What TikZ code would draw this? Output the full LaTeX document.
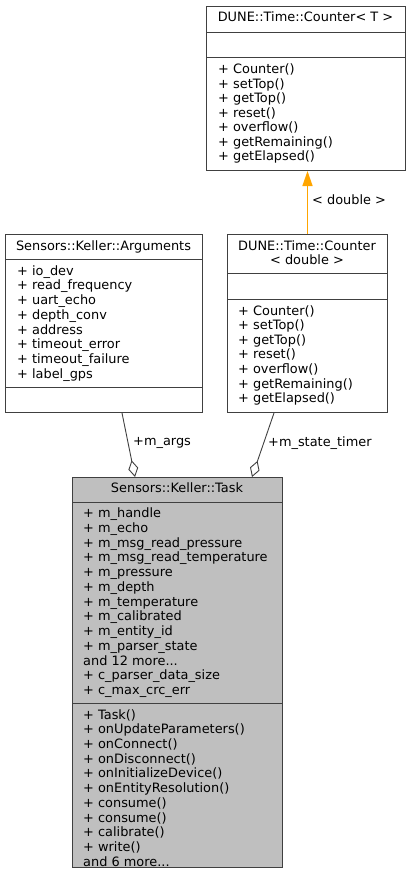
\documentclass[tikz,border=0pt]{standalone}
\usepackage{fontspec}
\setmainfont{DejaVu Sans}
\usetikzlibrary{arrows.meta, positioning}

\definecolor{linegray}{HTML}{404040}
\definecolor{taskgray}{HTML}{BFBFBF}
\definecolor{tplorange}{HTML}{FFA500}
\newcommand{\andmore}[1]{and #1 more...}

\begin{document}
\begin{tikzpicture}[
x=1pt, y=-1pt,
every node/.style={font=\fontsize{12.9}{15}\selectfont},
classbox/.style={draw=linegray, line width=1pt, inner sep=0, anchor=north west},
member/.style={anchor=base west, inner sep=0},
boxtitle/.style={anchor=base, inner sep=0},
sepline/.style={draw=linegray, line width=1pt},
aggr/.style={draw=linegray, line width=0.9pt, -{Diamond[open, length=17pt, width=10pt]}},
tplarrow/.style={draw=tplorange, line width=1.4pt, -{Triangle[length=15pt, width=10pt]}}
]

\useasboundingbox (0,0) rectangle (411,881);

% DUNE::Time::Counter< T >
\node[classbox, minimum width=199, minimum height=164] (ctmpl) at (206,6) {};
\node[boxtitle] (ctmpl-t) at (305.5,21.6) {DUNE::Time::Counter< T >};
\draw[sepline] (ctmpl.west |- 0,32) -- (ctmpl.east |- 0,32);
\draw[sepline] (ctmpl.west |- 0,57) -- (ctmpl.east |- 0,57);
\foreach \t [count=\i from 0] in {Counter(), setTop(), getTop(), reset(), overflow(), getRemaining(), getElapsed()} {
\node[member] (ctmpl-m\i) at (218, 73.6+\i*14.56) {+ \t};
}

% Sensors::Keller::Arguments
\node[classbox, minimum width=197, minimum height=178] (args) at (5,234) {};
\node[boxtitle] (args-t) at (103.5,250) {Sensors::Keller::Arguments};
\draw[sepline] (args.west |- 0,259) -- (args.east |- 0,259);
\draw[sepline] (args.west |- 0,387) -- (args.east |- 0,387);
\foreach \t [count=\i from 0] in {io\_dev, read\_frequency, uart\_echo, depth\_conv, address, timeout\_error, timeout\_failure, label\_gps} {
\node[member] (args-a\i) at (17, 275+\i*14.76) {+ \t};
}

% DUNE::Time::Counter< double >
\node[classbox, minimum width=160, minimum height=178] (cdbl) at (227,234) {};
\node[boxtitle] (cdbl-t1) at (307,250) {DUNE::Time::Counter};
\node[boxtitle] (cdbl-t2) at (307,264.4) {< double >};
\draw[sepline] (cdbl.west |- 0,273) -- (cdbl.east |- 0,273);
\draw[sepline] (cdbl.west |- 0,299) -- (cdbl.east |- 0,299);
\foreach \t [count=\i from 0] in {Counter(), setTop(), getTop(), reset(), overflow(), getRemaining(), getElapsed()} {
\node[member] (cdbl-m\i) at (238, 315+\i*14.6) {+ \t};
}

% Sensors::Keller::Task
\node[classbox, fill=taskgray, minimum width=210, minimum height=390] (task) at (72,477) {};
\node[boxtitle] (task-t) at (177,492.6) {Sensors::Keller::Task};
\draw[sepline] (task.west |- 0,502) -- (task.east |- 0,502);
\draw[sepline] (task.west |- 0,703) -- (task.east |- 0,703);
\foreach \t [count=\i from 0] in {+ m\_handle, + m\_echo, + m\_msg\_read\_pressure, + m\_msg\_read\_temperature, + m\_pressure, + m\_depth, + m\_temperature, + m\_calibrated, + m\_entity\_id, + m\_parser\_state, \andmore{12}, + c\_parser\_data\_size, + c\_max\_crc\_err} {
\node[member] (task-a\i) at (83, 517.6+\i*14.74) {\t};
}
\foreach \t [count=\i from 0] in {+ Task(), + onUpdateParameters(), + onConnect(), + onDisconnect(), + onInitializeDevice(), + onEntityResolution(), + consume(), + consume(), + calibrate(), + write(), \andmore{6}} {
\node[member] (task-m\i) at (83, 719.3+\i*14.67) {\t};
}

% template instance
\draw[tplarrow] (cdbl.north) -- (cdbl.north |- ctmpl.south);
\node[anchor=west, inner sep=0] (tpl-lbl) at (312,200) {< double >};

% aggregations
\draw[aggr] (args.south -| 122,0) -- (task.north -| 135,0);
\node[anchor=west, inner sep=0] (args-lbl) at (133,443) {+m\_args};
\draw[aggr] (cdbl.south -| 274,0) -- (task.north -| 252,0);
\node[anchor=west, inner sep=0] (timer-lbl) at (268,443) {+m\_state\_timer};

\end{tikzpicture}
\end{document}
